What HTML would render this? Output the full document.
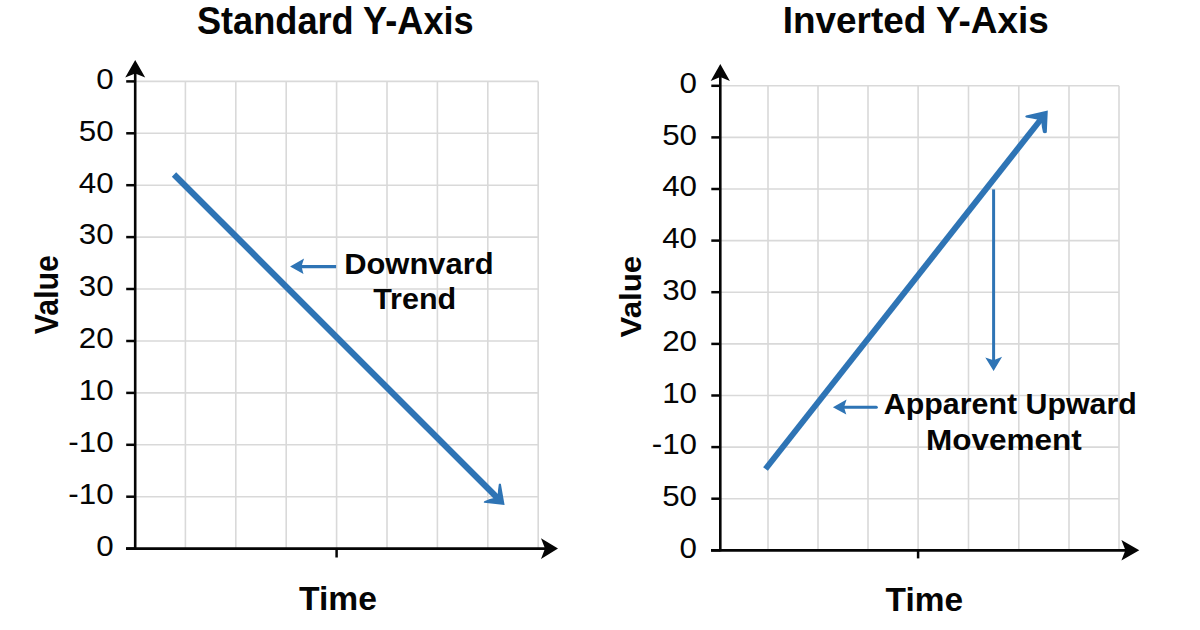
<!DOCTYPE html>
<html><head><meta charset="utf-8"><style>
html,body{margin:0;padding:0;background:#fff;width:1200px;height:630px;overflow:hidden}
svg{display:block}
text{font-family:"Liberation Sans",sans-serif;fill:#050505}
</style></head><body>
<svg width="1200" height="630" viewBox="0 0 1200 630">
<rect width="1200" height="630" fill="#fff"/>
<line x1="135.2" y1="81.4" x2="538.3" y2="81.4" stroke="#d9d9d9" stroke-width="1.6"/>
<line x1="135.2" y1="133.3" x2="538.3" y2="133.3" stroke="#d9d9d9" stroke-width="1.6"/>
<line x1="135.2" y1="185.2" x2="538.3" y2="185.2" stroke="#d9d9d9" stroke-width="1.6"/>
<line x1="135.2" y1="237.1" x2="538.3" y2="237.1" stroke="#d9d9d9" stroke-width="1.6"/>
<line x1="135.2" y1="289.0" x2="538.3" y2="289.0" stroke="#d9d9d9" stroke-width="1.6"/>
<line x1="135.2" y1="341.0" x2="538.3" y2="341.0" stroke="#d9d9d9" stroke-width="1.6"/>
<line x1="135.2" y1="392.9" x2="538.3" y2="392.9" stroke="#d9d9d9" stroke-width="1.6"/>
<line x1="135.2" y1="444.8" x2="538.3" y2="444.8" stroke="#d9d9d9" stroke-width="1.6"/>
<line x1="135.2" y1="496.7" x2="538.3" y2="496.7" stroke="#d9d9d9" stroke-width="1.6"/>
<line x1="185.4" y1="81.4" x2="185.4" y2="548.6" stroke="#d9d9d9" stroke-width="1.6"/>
<line x1="235.8" y1="81.4" x2="235.8" y2="548.6" stroke="#d9d9d9" stroke-width="1.6"/>
<line x1="286.2" y1="81.4" x2="286.2" y2="548.6" stroke="#d9d9d9" stroke-width="1.6"/>
<line x1="336.6" y1="81.4" x2="336.6" y2="548.6" stroke="#d9d9d9" stroke-width="1.6"/>
<line x1="387" y1="81.4" x2="387" y2="548.6" stroke="#d9d9d9" stroke-width="1.6"/>
<line x1="437.4" y1="81.4" x2="437.4" y2="548.6" stroke="#d9d9d9" stroke-width="1.6"/>
<line x1="487.8" y1="81.4" x2="487.8" y2="548.6" stroke="#d9d9d9" stroke-width="1.6"/>
<line x1="538.2" y1="81.4" x2="538.2" y2="548.6" stroke="#d9d9d9" stroke-width="1.6"/>
<line x1="126.19999999999999" y1="81.4" x2="135.2" y2="81.4" stroke="#050505" stroke-width="2.5"/>
<text transform="translate(113.6 88.7) scale(1.08 1)" text-anchor="end" font-size="29">0</text>
<line x1="126.19999999999999" y1="133.3" x2="135.2" y2="133.3" stroke="#050505" stroke-width="2.5"/>
<text transform="translate(113.6 140.6) scale(1.08 1)" text-anchor="end" font-size="29">50</text>
<line x1="126.19999999999999" y1="185.2" x2="135.2" y2="185.2" stroke="#050505" stroke-width="2.5"/>
<text transform="translate(113.6 192.5) scale(1.08 1)" text-anchor="end" font-size="29">40</text>
<line x1="126.19999999999999" y1="237.1" x2="135.2" y2="237.1" stroke="#050505" stroke-width="2.5"/>
<text transform="translate(113.6 244.4) scale(1.08 1)" text-anchor="end" font-size="29">30</text>
<line x1="126.19999999999999" y1="289.0" x2="135.2" y2="289.0" stroke="#050505" stroke-width="2.5"/>
<text transform="translate(113.6 296.3) scale(1.08 1)" text-anchor="end" font-size="29">30</text>
<line x1="126.19999999999999" y1="341.0" x2="135.2" y2="341.0" stroke="#050505" stroke-width="2.5"/>
<text transform="translate(113.6 348.3) scale(1.08 1)" text-anchor="end" font-size="29">20</text>
<line x1="126.19999999999999" y1="392.9" x2="135.2" y2="392.9" stroke="#050505" stroke-width="2.5"/>
<text transform="translate(113.6 400.2) scale(1.08 1)" text-anchor="end" font-size="29">10</text>
<line x1="126.19999999999999" y1="444.8" x2="135.2" y2="444.8" stroke="#050505" stroke-width="2.5"/>
<text transform="translate(113.6 452.1) scale(1.08 1)" text-anchor="end" font-size="29">-10</text>
<line x1="126.19999999999999" y1="496.7" x2="135.2" y2="496.7" stroke="#050505" stroke-width="2.5"/>
<text transform="translate(113.6 504.0) scale(1.08 1)" text-anchor="end" font-size="29">-10</text>
<line x1="126.19999999999999" y1="548.6" x2="135.2" y2="548.6" stroke="#050505" stroke-width="2.5"/>
<text transform="translate(113.6 555.9) scale(1.08 1)" text-anchor="end" font-size="29">0</text>
<line x1="135.2" y1="549.6" x2="135.2" y2="70" stroke="#050505" stroke-width="2.6"/>
<path d="M135.2 60 L145.2 77.5 L135.2 73.5 L125.19999999999999 77.5 Z" fill="#050505"/>
<line x1="126" y1="548.6" x2="550" y2="548.6" stroke="#050505" stroke-width="2.8"/>
<path d="M558 548.6 L541 558.9 L545 548.6 L541 538.3000000000001 Z" fill="#050505"/>
<line x1="336.6" y1="548.6" x2="336.6" y2="557.5" stroke="#050505" stroke-width="2.5"/>
<line x1="174" y1="174.5" x2="498" y2="498.5" stroke="#2e74b5" stroke-width="6.2"/>
<path d="M504.6 505 L500.9 484 Q499.8 483 498.8 484.3 Q497.9 490 497.7 495 L495 497.8 Q490 498.6 484.3 501.2 Q483 502.3 484.3 502.8 Z" fill="#2e74b5"/>
<line x1="301" y1="266.6" x2="336.1" y2="266.6" stroke="#2e74b5" stroke-width="3.2"/>
<path d="M290.1 266.5 L304.1 258.4 Q302.8 262 301.8 265.5 L301.8 267.5 Q302.6 271 303.5 274 Z" fill="#2e74b5"/>
<line x1="720.3" y1="85.8" x2="1119" y2="85.8" stroke="#d9d9d9" stroke-width="1.6"/>
<line x1="720.3" y1="137.4" x2="1119" y2="137.4" stroke="#d9d9d9" stroke-width="1.6"/>
<line x1="720.3" y1="189.0" x2="1119" y2="189.0" stroke="#d9d9d9" stroke-width="1.6"/>
<line x1="720.3" y1="240.6" x2="1119" y2="240.6" stroke="#d9d9d9" stroke-width="1.6"/>
<line x1="720.3" y1="292.2" x2="1119" y2="292.2" stroke="#d9d9d9" stroke-width="1.6"/>
<line x1="720.3" y1="343.9" x2="1119" y2="343.9" stroke="#d9d9d9" stroke-width="1.6"/>
<line x1="720.3" y1="395.5" x2="1119" y2="395.5" stroke="#d9d9d9" stroke-width="1.6"/>
<line x1="720.3" y1="447.1" x2="1119" y2="447.1" stroke="#d9d9d9" stroke-width="1.6"/>
<line x1="720.3" y1="498.7" x2="1119" y2="498.7" stroke="#d9d9d9" stroke-width="1.6"/>
<line x1="768" y1="85.8" x2="768" y2="550.3" stroke="#d9d9d9" stroke-width="1.6"/>
<line x1="818" y1="85.8" x2="818" y2="550.3" stroke="#d9d9d9" stroke-width="1.6"/>
<line x1="868" y1="85.8" x2="868" y2="550.3" stroke="#d9d9d9" stroke-width="1.6"/>
<line x1="918.1" y1="85.8" x2="918.1" y2="550.3" stroke="#d9d9d9" stroke-width="1.6"/>
<line x1="968.5" y1="85.8" x2="968.5" y2="550.3" stroke="#d9d9d9" stroke-width="1.6"/>
<line x1="1018.8" y1="85.8" x2="1018.8" y2="550.3" stroke="#d9d9d9" stroke-width="1.6"/>
<line x1="1069" y1="85.8" x2="1069" y2="550.3" stroke="#d9d9d9" stroke-width="1.6"/>
<line x1="1119" y1="85.8" x2="1119" y2="550.3" stroke="#d9d9d9" stroke-width="1.6"/>
<line x1="711.3" y1="85.8" x2="720.3" y2="85.8" stroke="#050505" stroke-width="2.5"/>
<text transform="translate(697.0 93.1) scale(1.08 1)" text-anchor="end" font-size="29">0</text>
<line x1="711.3" y1="137.4" x2="720.3" y2="137.4" stroke="#050505" stroke-width="2.5"/>
<text transform="translate(697.0 144.7) scale(1.08 1)" text-anchor="end" font-size="29">50</text>
<line x1="711.3" y1="189.0" x2="720.3" y2="189.0" stroke="#050505" stroke-width="2.5"/>
<text transform="translate(697.0 196.3) scale(1.08 1)" text-anchor="end" font-size="29">40</text>
<line x1="711.3" y1="240.6" x2="720.3" y2="240.6" stroke="#050505" stroke-width="2.5"/>
<text transform="translate(697.0 247.9) scale(1.08 1)" text-anchor="end" font-size="29">40</text>
<line x1="711.3" y1="292.2" x2="720.3" y2="292.2" stroke="#050505" stroke-width="2.5"/>
<text transform="translate(697.0 299.5) scale(1.08 1)" text-anchor="end" font-size="29">30</text>
<line x1="711.3" y1="343.9" x2="720.3" y2="343.9" stroke="#050505" stroke-width="2.5"/>
<text transform="translate(697.0 351.2) scale(1.08 1)" text-anchor="end" font-size="29">20</text>
<line x1="711.3" y1="395.5" x2="720.3" y2="395.5" stroke="#050505" stroke-width="2.5"/>
<text transform="translate(697.0 402.8) scale(1.08 1)" text-anchor="end" font-size="29">10</text>
<line x1="711.3" y1="447.1" x2="720.3" y2="447.1" stroke="#050505" stroke-width="2.5"/>
<text transform="translate(697.0 454.4) scale(1.08 1)" text-anchor="end" font-size="29">-10</text>
<line x1="711.3" y1="498.7" x2="720.3" y2="498.7" stroke="#050505" stroke-width="2.5"/>
<text transform="translate(697.0 506.0) scale(1.08 1)" text-anchor="end" font-size="29">50</text>
<line x1="711.3" y1="550.3" x2="720.3" y2="550.3" stroke="#050505" stroke-width="2.5"/>
<text transform="translate(697.0 557.6) scale(1.08 1)" text-anchor="end" font-size="29">0</text>
<line x1="720.3" y1="551.3" x2="720.3" y2="74" stroke="#050505" stroke-width="2.6"/>
<path d="M720.3 64 L729.9 81 L720.3 77 L710.6999999999999 81 Z" fill="#050505"/>
<line x1="711" y1="550.3" x2="1130" y2="550.3" stroke="#050505" stroke-width="2.8"/>
<path d="M1139.3 550.3 L1121.4 560.5999999999999 L1125.4 550.3 L1121.4 540.0 Z" fill="#050505"/>
<line x1="918.1" y1="550.3" x2="918.1" y2="558.4" stroke="#050505" stroke-width="2.5"/>
<line x1="765.5" y1="469" x2="1040" y2="120.5" stroke="#2e74b5" stroke-width="6"/>
<path d="M1047.8 110.4 L1046.8 132.5 Q1045 134 1043 132.5 Q1041.6 127 1041.4 122.5 L1038.3 119.8 Q1032 118.6 1026 117.6 Q1024.4 116.5 1026 115.5 Z" fill="#2e74b5"/>
<line x1="993.6" y1="189.4" x2="993.6" y2="362" stroke="#2e74b5" stroke-width="3"/>
<path d="M993.6 371.1 L985.3 357.5 L993.6 360.3 L1002.1 356.8 Z" fill="#2e74b5"/>
<line x1="843" y1="407.2" x2="876.3" y2="407.2" stroke="#2e74b5" stroke-width="3" stroke-linecap="round"/>
<path d="M832.9 407.2 L846.6 399.4 Q845.2 403.5 844.3 406.5 L844.3 408 Q845.2 411 846.3 414.6 Z" fill="#2e74b5"/>
<text transform="translate(335.30 34.20) scale(1.0052 1.0754)" text-anchor="middle" font-weight="bold" font-size="36">Standard Y-Axis</text>
<text transform="translate(915.75 32.80) scale(1.0259 1.0232)" text-anchor="middle" font-weight="bold" font-size="36">Inverted Y-Axis</text>
<text transform="translate(338.00 610.00) scale(1.0194 1.0049)" text-anchor="middle" font-weight="bold" font-size="33">Time</text>
<text transform="translate(924.30 611.00) scale(1.0137 0.9846)" text-anchor="middle" font-weight="bold" font-size="33">Time</text>
<text transform="translate(57.50 294.65) rotate(-90) scale(1.0108 1.0909)" text-anchor="middle" font-weight="bold" font-size="30">Value</text>
<text transform="translate(641.30 296.60) rotate(-90) scale(1.0424 0.9836)" text-anchor="middle" font-weight="bold" font-size="30">Value</text>
<text transform="translate(418.90 274.30) scale(1.0667 1.0205)" text-anchor="middle" font-weight="bold" font-size="29">Downvard</text>
<text transform="translate(414.70 308.50) scale(1.0526 1.0276)" text-anchor="middle" font-weight="bold" font-size="29">Trend</text>
<text transform="translate(1010.30 413.80) scale(1.0471 1.0041)" text-anchor="middle" font-weight="bold" font-size="29">Apparent Upward</text>
<text transform="translate(1003.90 449.80) scale(1.0867 0.9893)" text-anchor="middle" font-weight="bold" font-size="29">Movement</text>
</svg>
</body></html>
